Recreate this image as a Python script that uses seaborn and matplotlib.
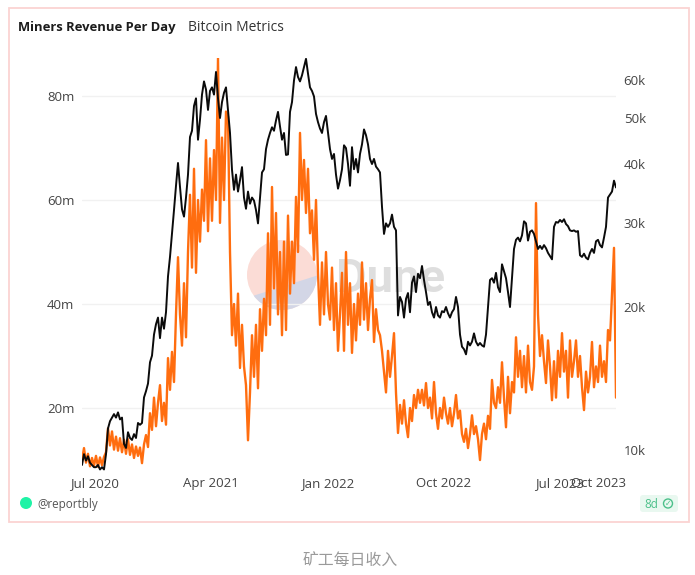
import pandas as pd
import numpy as np
import matplotlib
matplotlib.use('Agg')
import matplotlib.pyplot as plt
import seaborn as sns
from matplotlib.patches import Circle, Polygon, Rectangle, FancyBboxPatch
from matplotlib.ticker import FuncFormatter
from matplotlib.transforms import Affine2D

# daily miners revenue in millions left to right
revenue_m = [
    10.0, 12.3, 9.5, 11.2, 8.8, 10.4, 8.9, 10.8, 8.7, 10.5,
    9.0, 10.6, 11.5, 16.1, 12.8, 15.5, 12.0, 14.5, 11.8, 14.2,
    11.5, 13.9, 11.2, 14.0, 11.0, 13.0, 10.4, 12.6, 10.8, 12.4,
    9.4, 13.0, 14.8, 12.5, 19.0, 15.8, 22.0, 16.5, 21.0, 24.4,
    17.5, 21.0, 16.8, 29.6, 23.5, 30.8, 25.0, 38.0, 49.0, 38.0,
    32.0, 44.0, 33.6, 50.0, 61.0, 47.0, 66.0, 46.0, 60.0, 52.0,
    62.0, 56.0, 71.5, 54.0, 68.0, 56.0, 69.6, 60.0, 87.3, 55.6,
    72.0, 60.0, 77.0, 76.0, 50.0, 34.0, 40.0, 32.0, 42.0, 27.7,
    36.0, 28.0, 24.4, 13.8, 23.0, 34.0, 26.0, 36.0, 23.8, 39.0,
    31.0, 41.0, 34.0, 53.6, 36.0, 62.5, 43.0, 57.5, 38.0, 50.0,
    34.0, 52.0, 35.0, 57.0, 42.0, 52.0, 44.0, 60.6, 50.0, 72.9,
    60.0, 67.7, 57.5, 66.0, 53.6, 58.0, 48.5, 60.0, 46.0, 36.0,
    48.0, 38.0, 50.0, 40.0, 37.0, 47.0, 35.0, 44.0, 31.0, 38.0,
    46.0, 31.0, 50.0, 36.0, 44.0, 30.6, 40.0, 33.0, 42.0, 36.0,
    48.0, 37.0, 44.0, 35.0, 41.0, 44.6, 32.7, 39.0, 35.0, 34.0,
    31.0, 27.0, 23.0, 31.0, 26.0, 30.0, 34.4, 22.9, 15.2, 20.6,
    17.0, 21.5, 17.0, 14.4, 20.0, 17.5, 22.5, 20.0, 23.5, 21.0,
    23.5, 20.5, 24.8, 20.0, 22.0, 18.0, 25.0, 19.0, 16.0, 20.0,
    18.0, 22.0, 19.0, 17.0, 20.0, 16.5, 19.0, 22.5, 18.0, 19.5,
    15.0, 13.5, 16.0, 12.3, 15.0, 18.6, 15.0, 16.5, 14.0, 10.0,
    15.0, 17.0, 14.0, 18.5, 16.0, 25.4, 21.0, 20.0, 24.0, 21.0,
    28.8, 22.0, 16.3, 26.0, 19.0, 25.0, 23.0, 33.6, 26.0, 31.0,
    24.0, 30.0, 23.0, 32.0, 25.0, 23.5, 28.0, 59.4, 38.0, 30.0,
    34.0, 29.0, 24.8, 33.0, 28.0, 21.5, 29.0, 22.0, 31.0, 26.0,
    34.4, 27.0, 31.0, 22.0, 33.0, 26.0, 29.0, 33.0, 26.0, 30.0,
    24.0, 19.6, 27.0, 23.0, 26.0, 32.7, 24.0, 28.0, 25.0, 32.0,
    26.0, 29.0, 25.0, 35.0, 33.0, 42.0, 50.8, 22.0,
]

# bitcoin price in thousands, same sampling
price_k = [
    9.3, 9.8, 9.5, 9.7, 9.4, 9.3, 9.2, 9.2, 9.3, 9.1,
    9.2, 9.1, 9.8, 11.1, 11.5, 11.7, 11.9, 11.7, 12.0, 11.6,
    11.7, 10.3, 10.1, 10.9, 10.6, 10.5, 10.8, 10.6, 11.4, 11.3,
    11.4, 12.9, 13.3, 13.8, 15.3, 15.8, 17.5, 18.4, 19.0, 17.2,
    19.0, 18.0, 19.5, 23.2, 25.5, 28.5, 32.0, 36.0, 40.2, 35.8,
    32.1, 31.0, 34.0, 38.0, 45.6, 47.0, 53.0, 55.0, 45.0, 49.6,
    56.0, 59.7, 57.4, 52.0, 57.0, 58.0, 56.0, 62.5, 55.0, 50.0,
    54.0, 56.5, 58.0, 52.0, 46.5, 38.9, 35.3, 38.0, 35.0, 37.0,
    39.4, 34.0, 32.2, 35.0, 33.0, 34.0, 33.5, 32.0, 30.0, 34.0,
    38.4, 39.0, 43.0, 45.0, 46.5, 47.8, 47.0, 49.4, 51.5, 48.0,
    45.0, 46.5, 41.8, 41.9, 51.5, 54.0, 60.0, 64.0, 61.0, 59.7,
    61.5, 64.0, 66.6, 62.0, 58.0, 57.0, 55.5, 51.0, 49.0, 47.5,
    46.5, 49.0, 50.5, 46.5, 43.0, 41.0, 42.0, 38.0, 35.5, 37.0,
    39.0, 43.8, 43.2, 40.0, 36.0, 43.4, 39.0, 41.0, 38.4, 42.0,
    44.0, 47.3, 46.0, 44.0, 41.0, 40.0, 41.0, 39.5, 39.0, 38.4,
    32.5, 28.5, 30.0, 29.5, 30.0, 31.3, 29.5, 29.0, 19.2, 21.0,
    20.5, 19.0, 20.8, 21.4, 19.5, 22.5, 23.2, 21.5, 23.5, 23.0,
    24.4, 22.8, 21.5, 20.2, 20.5, 19.5, 19.0, 20.0, 19.2, 19.0,
    19.6, 19.5, 20.0, 19.4, 19.0, 19.5, 19.8, 21.0, 20.0, 17.5,
    16.5, 16.3, 15.9, 16.9, 16.6, 16.9, 17.6, 16.9, 16.6, 16.8,
    16.6, 16.5, 17.5, 20.0, 22.8, 23.0, 22.5, 23.6, 22.0, 21.5,
    24.6, 23.8, 23.0, 21.5, 20.0, 23.0, 26.5, 27.7, 28.0, 27.5,
    28.3, 30.3, 30.0, 27.6, 28.8, 29.0, 28.5, 27.5, 26.5, 26.9,
    26.5, 27.0, 26.6, 26.0, 25.6, 25.2, 29.5, 30.2, 30.1, 30.5,
    30.2, 30.6, 29.9, 29.6, 29.0, 28.9, 29.0, 28.8, 28.9, 25.7,
    25.5, 25.9, 25.4, 25.2, 26.0, 26.5, 26.0, 27.5, 27.7, 27.0,
    26.7, 28.0, 29.5, 34.0, 34.5, 35.0, 36.9, 35.7,
]

first_day = '2020-06-01'
last_day = '2023-11-12'
x_ticks = ['2020-07-01', '2021-04-01', '2022-01-01', '2022-10-01', '2023-07-01', '2023-10-01']
x_tick_labels = ['Jul 2020', 'Apr 2021', 'Jan 2022', 'Oct 2022', 'Jul 2023', 'Oct 2023']
left_ticks = [20, 40, 60, 80]
right_ticks = [10, 20, 30, 40, 50, 60]

sns.set_theme(style='white')
plt.rcParams['font.family'] = ['Open Sans', 'DejaVu Sans']

W, H = 695, 575
fig = plt.figure(figsize=(W / 100, H / 100), dpi=100)
# pixel coordinates with the origin top left, for the page furniture
px = Affine2D().scale(1, -1).translate(0, H)

# frame around the card
fig.add_artist(Rectangle((9, 8), 680, 514, transform=px, fill=False, edgecolor='#fbd3d2', linewidth=1.3))

# Dune watermark sits under the lines
logo = Circle((282, 275), 35, transform=px, facecolor='#fbdcd6', edgecolor='none', zorder=-2)
fig.add_artist(logo)
wedge = Polygon([(240, 300), (322, 274), (322, 320), (240, 320)], closed=True, transform=px,
                facecolor='#d3d6e6', edgecolor='none', zorder=-1)
fig.add_artist(wedge)
wedge.set_clip_path(logo)
fig.text(336, 292, 'Dune', transform=px, fontsize=34, fontweight='bold', color='#dedede', zorder=-1,
         family='Roboto')

# axes box in pixels: x 82-616, y 58-472
left, right, top, bottom = 82, 616, 58, 472
ax = fig.add_axes([left / W, 1 - bottom / H, (right - left) / W, (bottom - top) / H])
ax.patch.set_alpha(0)

df = pd.DataFrame({
    'day': pd.date_range(first_day, last_day, periods=len(revenue_m)),
    'revenue': revenue_m,
    'price': price_k,
})

sns.lineplot(data=df, x='day', y='revenue', ax=ax, color='#ff6d0f', linewidth=1.7, estimator=None)
ax.set_xlim(pd.Timestamp(first_day), pd.Timestamp(last_day))
ax.set_ylim(7.7, 87.3)
ax.set_yticks(left_ticks)
ax.yaxis.set_major_formatter(FuncFormatter(lambda v, _: f'{v:.0f}m'))
ax.set_xticks(pd.to_datetime(x_ticks))
ax.set_xticklabels(x_tick_labels)
ax.set_xlabel('')
ax.set_ylabel('')
ax.grid(axis='y', color='#f1f1f1', linewidth=1)
ax.set_axisbelow(True)
ax.tick_params(axis='x', length=0, pad=3.5, labelsize=9.5, labelcolor='#444444')
ax.tick_params(axis='y', length=0, pad=5.5, labelsize=9.5, labelcolor='#444444')

ax2 = ax.twinx()
sns.lineplot(data=df, x='day', y='price', ax=ax2, color='#0b0b0b', linewidth=1.4, estimator=None)
ax2.set_yscale('log')
ax2.set_ylim(10 ** (4 + (450 - bottom) / 475) / 1000, 10 ** (4 + (450 - top) / 475) / 1000)
ax2.set_yticks(right_ticks)
ax2.minorticks_off()
ax2.yaxis.set_major_formatter(FuncFormatter(lambda v, _: f'{v:.0f}k'))
ax2.set_ylabel('')
ax2.grid(False)
ax2.tick_params(axis='y', length=0, pad=5.5, labelsize=9.5, labelcolor='#444444')

for a in (ax, ax2):
    for spine in a.spines.values():
        spine.set_visible(False)

# header
fig.text(18, 31, 'Miners Revenue Per Day', transform=px, fontsize=9.4, fontweight='bold', color='#1c1c1c')
fig.text(188, 31, 'Bitcoin Metrics', transform=px, fontsize=10, color='#333333')

# footer
fig.add_artist(Circle((26, 503), 6, transform=px, facecolor='#1ff3a6', edgecolor='none'))
fig.text(37, 508, '@reportbly', transform=px, fontsize=8.4, color='#555555')
fig.add_artist(FancyBboxPatch((642, 497), 34, 13, boxstyle='round,pad=2,rounding_size=3', transform=px,
                              facecolor='#e9f8f0', edgecolor='none'))
fig.text(644, 508, '8d', transform=px, fontsize=8.4, color='#4cc08a')
fig.add_artist(Circle((668, 503.5), 4.5, transform=px, fill=False, edgecolor='#4cc08a', linewidth=1))
fig.text(668, 503.5, '✓', transform=px, fontsize=5.5, color='#4cc08a', ha='center', va='center',
         family='DejaVu Sans')

# caption under the card
fig.text(350, 566, '矿工每日收入', transform=px, ha='center', fontsize=11.4, color='#9a9a9a',
         family=['Noto Sans CJK SC', 'DejaVu Sans'])

fig.savefig('out.png', dpi=100)
